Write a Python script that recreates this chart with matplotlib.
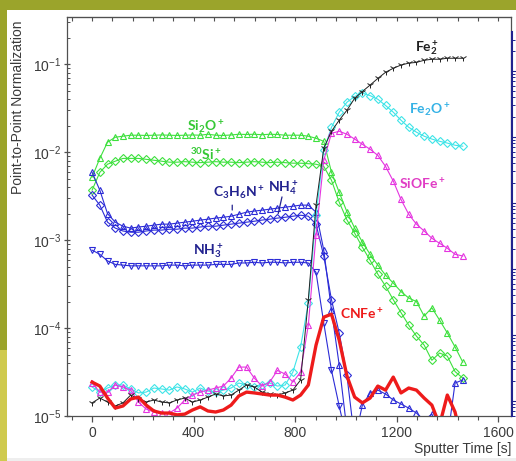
import matplotlib
matplotlib.use('Agg')
import matplotlib.pyplot as plt
import matplotlib.ticker as mticker
from matplotlib.patches import Rectangle
import numpy as np

nan = np.nan

# -- Data --------------------------------------------------------------------
time_s = np.linspace(0, 1460, 49)          # sputter time, ~30 s per cycle

si2o = [5.2e-3, 8.5e-3, 1.3e-2, 1.48e-2, 1.52e-2, 1.56e-2, 1.56e-2, 1.55e-2, 1.56e-2, 1.57e-2,
        1.56e-2, 1.55e-2, 1.56e-2, 1.57e-2, 1.56e-2, 1.6e-2, 1.56e-2, 1.55e-2, 1.57e-2, 1.6e-2,
        1.59e-2, 1.6e-2, 1.58e-2, 1.6e-2, 1.59e-2, 1.56e-2, 1.56e-2, 1.56e-2, 1.52e-2, 1.44e-2,
        1.33e-2, 5.9e-3, 3.5e-3, 2.1e-3, 1.37e-3, 9.5e-4, 6.9e-4, 5.2e-4, 4.0e-4, 3.25e-4,
        2.6e-4, 2.2e-4, 2.0e-4, 1.37e-4, 1.7e-4, 1.23e-4, 8.8e-5, 6.1e-5, 4.1e-5]

si30 = [3.7e-3, 5.9e-3, 7.3e-3, 7.9e-3, 8.5e-3, 8.5e-3, 8.5e-3, 8.3e-3, 8.1e-3, 7.9e-3,
        7.7e-3, 7.7e-3, 7.8e-3, 7.7e-3, 7.6e-3, 7.7e-3, 7.8e-3, 7.7e-3, 7.7e-3, 7.6e-3,
        7.7e-3, 7.8e-3, 7.7e-3, 7.6e-3, 7.7e-3, 7.6e-3, 7.5e-3, 7.5e-3, 7.4e-3, 7.3e-3,
        6.9e-3, 4.8e-3, 2.7e-3, 1.7e-3, 1.2e-3, 8.3e-4, 5.9e-4, 4.1e-4, 3.0e-4, 2.1e-4,
        1.5e-4, 1.08e-4, 8.1e-5, 6.4e-5, 4.3e-5, 5.2e-5, 4.8e-5, 3.2e-5, 2.7e-5]

c3h6n = [5.9e-3, 3.7e-3, 2.0e-3, 1.6e-3, 1.44e-3, 1.37e-3, 1.41e-3, 1.44e-3, 1.48e-3, 1.52e-3,
         1.52e-3, 1.56e-3, 1.6e-3, 1.64e-3, 1.69e-3, 1.73e-3, 1.78e-3, 1.82e-3, 1.87e-3, 1.97e-3,
         2.08e-3, 2.14e-3, 2.19e-3, 2.25e-3, 2.31e-3, 2.37e-3, 2.43e-3, 2.5e-3, 2.5e-3, 2.08e-3,
         7.7e-4, 1.6e-4, 3.8e-5, 6.9e-6, 5.3e-6, 1.33e-5, 1.83e-5, 1.97e-5, 1.78e-5, 1.52e-5,
         1.37e-5, 1.23e-5, 1.08e-5, 9e-6, 1.05e-5, 6.9e-6, 5.3e-6, 2.37e-5, 2.57e-5]

nh4 = [3.25e-3, 2.5e-3, 1.6e-3, 1.37e-3, 1.27e-3, 1.23e-3, 1.23e-3, 1.27e-3, 1.3e-3, 1.3e-3,
       1.33e-3, 1.33e-3, 1.37e-3, 1.37e-3, 1.41e-3, 1.44e-3, 1.44e-3, 1.48e-3, 1.52e-3, 1.56e-3,
       1.6e-3, 1.64e-3, 1.69e-3, 1.73e-3, 1.78e-3, 1.82e-3, 1.87e-3, 1.92e-3, 1.87e-3, 1.52e-3,
       6.6e-4, 2.1e-4, 8.8e-5, 2.9e-5, 5.3e-6, nan, nan, nan, nan, nan,
       nan, nan, nan, nan, nan, nan, nan, nan, nan]

nh3 = [7.7e-4, 6.9e-4, 5.8e-4, 5.3e-4, 5.2e-4, 5.1e-4, 5.1e-4, 5.1e-4, 5.1e-4, 5.1e-4,
       5.2e-4, 5.2e-4, 5.1e-4, 5.2e-4, 5.2e-4, 5.2e-4, 5.3e-4, 5.3e-4, 5.3e-4, 5.5e-4,
       5.5e-4, 5.6e-4, 5.5e-4, 5.6e-4, 5.6e-4, 5.5e-4, 5.6e-4, 5.6e-4, 5.5e-4, 4.3e-4,
       1.14e-4, 3.3e-5, 1.3e-5, 5.3e-6, nan, nan, nan, nan, nan, nan,
       nan, nan, nan, nan, nan, nan, nan, nan, nan]

fe2o = [2.14e-5, 1.87e-5, 2.08e-5, 2.25e-5, 2.25e-5, 2.03e-5, 1.83e-5, 1.87e-5, 2.08e-5, 2.03e-5,
        1.97e-5, 2.14e-5, 2.03e-5, 1.87e-5, 2.08e-5, 1.92e-5, 1.87e-5, 1.97e-5, 2.08e-5, 2.37e-5,
        2.25e-5, 2.14e-5, 2.25e-5, 2.37e-5, 2.19e-5, 2.25e-5, 3.16e-5, 6.1e-5, 1.92e-4, 1.92e-3,
        1.05e-2, 1.92e-2, 2.85e-2, 3.7e-2, 4.3e-2, 4.7e-2, 4.4e-2, 4.0e-2, 3.4e-2, 2.85e-2,
        2.31e-2, 1.92e-2, 1.69e-2, 1.52e-2, 1.41e-2, 1.33e-2, 1.27e-2, 1.2e-2, 1.17e-2]

siofe = [2.37e-5, 1.87e-5, 1.87e-5, 2.25e-5, 2.14e-5, 1.97e-5, 1.44e-5, 1.2e-5, 1.11e-5, 1.08e-5,
         1.08e-5, 1.23e-5, 1.52e-5, 1.73e-5, 1.87e-5, 1.97e-5, 2.08e-5, 2.19e-5, 2.7e-5, 3.6e-5,
         3.6e-5, 2.7e-5, 2.19e-5, 2.43e-5, 3.3e-5, 3.0e-5, 2.43e-5, 3.16e-5, 1.08e-4, 1.14e-3,
         8.1e-3, 1.64e-2, 1.73e-2, 1.6e-2, 1.41e-2, 1.23e-2, 1.08e-2, 9.2e-3, 6.9e-3, 4.7e-3,
         2.9e-3, 1.97e-3, 1.52e-3, 1.27e-3, 1.05e-3, 9.2e-4, 8.1e-4, 6.9e-4, 6.6e-4]

fe2 = [1.41e-5, 1.6e-5, 1.44e-5, 1.3e-5, 1.41e-5, 1.73e-5, 1.56e-5, 1.44e-5, 1.52e-5, 1.44e-5,
       1.41e-5, 1.52e-5, 1.6e-5, 1.44e-5, 1.52e-5, 1.64e-5, 1.78e-5, 1.69e-5, 1.73e-5, 1.97e-5,
       2.25e-5, 2.14e-5, 1.87e-5, 1.78e-5, 1.73e-5, 1.83e-5, 1.97e-5, 2.57e-5, 2.1e-4, 2.5e-3,
       1.11e-2, 1.73e-2, 2.31e-2, 3.0e-2, 4.1e-2, 4.9e-2, 5.8e-2, 6.9e-2, 8.1e-2, 9.0e-2,
       9.8e-2, 1.03e-1, 1.05e-1, 1.11e-1, 1.14e-1, 1.14e-1, 1.17e-1, 1.17e-1, 1.17e-1]

cnfe = [2.43e-5, 2.19e-5, 1.6e-5, 1.23e-5, 1.3e-5, 1.56e-5, 1.64e-5, 1.33e-5, 1.14e-5, 1.08e-5,
        1.08e-5, 1.03e-5, 1.05e-5, 1.17e-5, 1.27e-5, 1.14e-5, 1.11e-5, 1.17e-5, 1.33e-5, 1.69e-5,
        1.87e-5, 1.83e-5, 1.78e-5, 1.73e-5, 1.73e-5, 1.64e-5, 1.52e-5, 1.73e-5, 2.25e-5, 6.4e-5,
        1.33e-4, 1.44e-4, 7.3e-5, 2.85e-5, 1.64e-5, 1.41e-5, 1.6e-5, 2.19e-5, 1.97e-5, 2.77e-5,
        1.83e-5, 2.08e-5, 1.97e-5, 1.6e-5, 1.33e-5, 7.9e-6, 1.73e-5, 1.11e-5, 4.7e-6]

# -- Colours ------------------------------------------------------------------
OLIVE  = '#9ba42b'
YELLOW = '#cfca4e'
GREEN  = '#3ee03e'
GREENT = '#35c835'
BLUE   = '#2b2bd6'
NAVY   = '#22228f'
CYAN   = '#3fe4e8'
CYANT  = '#35b2e6'
MAGENT = '#e535e0'
MAGT   = '#e03cc4'
RED    = '#ee1b1b'
BLACK  = '#202020'
AXC    = '#505050'
TXT    = '#3a3a3a'

plt.rcParams.update({
    'font.family': 'Liberation Sans',
    'mathtext.fontset': 'custom',
    'mathtext.rm': 'Lato',
    'mathtext.bf': 'Lato:bold',
    'mathtext.it': 'Lato:italic',
})

W, H = 516, 461
fig = plt.figure(figsize=(W / 100, H / 100), dpi=100, facecolor='white')

# slide background frame
fig.add_artist(Rectangle((0, 1 - 10 / H), 1, 10 / H, transform=fig.transFigure,
                         facecolor=OLIVE, edgecolor='none', zorder=-5))
fig.add_artist(Rectangle((0, 1 - 350 / H), 7 / W, 350 / H, transform=fig.transFigure,
                         facecolor=OLIVE, edgecolor='none', zorder=-5))
fig.add_artist(Rectangle((0, 0), 7 / W, 1 - 350 / H, transform=fig.transFigure,
                         facecolor=YELLOW, edgecolor='none', zorder=-5))
fig.add_artist(Rectangle((7 / W, 0), 1, 3 / H, transform=fig.transFigure,
                         facecolor='#eeeeee', edgecolor='none', zorder=-5))

ax = fig.add_axes([66.7 / W, 45 / H, (511 - 66.7) / W, (416 - 17.3) / H])
ax.set_facecolor('none')

mk = dict(mfc='none', mew=0.8, lw=0.8)
ax.plot(time_s, si2o, color=GREEN, marker='^', ms=5, **mk)
ax.plot(time_s, si30, color=GREEN, marker='D', ms=3.6, **mk)
ax.plot(time_s, c3h6n, color=BLUE, marker='^', ms=5, **mk)
ax.plot(time_s, nh4, color=BLUE, marker='D', ms=3.6, **mk)
ax.plot(time_s, nh3, color=BLUE, marker='v', ms=5, **mk)
ax.plot(time_s, fe2o, color=CYAN, marker='D', ms=3.6, **mk)
ax.plot(time_s, siofe, color=MAGENT, marker='^', ms=5, **mk)
ax.plot(time_s, fe2, color=BLACK, marker='1', ms=5, mew=0.7, lw=0.7)
ax.plot(time_s, cnfe, color=RED, lw=2.4, solid_joinstyle='round')

ax.set_yscale('log')
ax.set_xlim(-100, 1650)
ax.set_ylim(1e-5, 0.342)

ax.xaxis.set_major_locator(mticker.MultipleLocator(400))
ax.xaxis.set_minor_locator(mticker.MultipleLocator(80))
ax.yaxis.set_major_locator(mticker.LogLocator(base=10, numticks=10))
ax.yaxis.set_minor_locator(mticker.LogLocator(base=10, subs=np.arange(2, 10), numticks=10))
ax.yaxis.set_minor_formatter(mticker.NullFormatter())

ax.tick_params(axis='x', which='major', direction='out', length=4.5, width=0.9,
               colors=AXC, labelcolor=TXT, labelsize=10, pad=3)
ax.tick_params(axis='x', which='minor', direction='out', length=3, width=0.8, colors=AXC)
ax.tick_params(axis='y', which='major', direction='inout', length=5, width=0.9,
               colors=AXC, labelcolor=TXT, labelsize=10, pad=1.5)
ax.tick_params(axis='y', which='minor', direction='in', length=2.5, width=0.7, colors=AXC)
for sp in ax.spines.values():
    sp.set_color(AXC)
    sp.set_linewidth(0.9)

top = ax.secondary_xaxis('top')
top.xaxis.set_major_locator(mticker.MultipleLocator(400))
top.xaxis.set_minor_locator(mticker.MultipleLocator(80))
top.tick_params(which='both', direction='in', length=3, width=0.8, colors=AXC, labeltop=False)
top.spines['top'].set_color(AXC)

# species labels
lab = dict(fontsize=10, ha='center', va='center')
ax.text(446, 1.92e-2, r'$\mathbf{Si_2O^+}$', color=GREENT, **lab)
ax.text(450, 9.2e-3, r'$\mathbf{{}^{30}Si^+}$', color=GREENT, **lab)
ax.text(580, 3.4e-3, r'$\mathbf{C_3H_6N^+}$', color=NAVY, **lab)
ax.text(752, 3.9e-3, r'$\mathbf{NH_4^+}$', color=NAVY, **lab)
ax.text(458, 7.4e-4, r'$\mathbf{NH_3^+}$', color=NAVY, **lab)
ax.text(1320, 0.15, r'$\mathbf{Fe_2^+}$', color=BLACK, **lab)
ax.text(1330, 3.0e-2, r'$\mathbf{Fe_2O^+}$', color=CYANT, **lab)
ax.text(1300, 4.2e-3, r'$\mathbf{SiOFe^+}$', color=MAGT, **lab)
ax.text(1062, 1.41e-4, r'$\mathbf{CNFe^+}$', color=RED, **lab)
ax.annotate('', xy=(552, 2.2e-3), xytext=(552, 2.5e-3),
            arrowprops=dict(arrowstyle='-', color=NAVY, lw=0.9, shrinkA=0, shrinkB=0))
ax.annotate('', xy=(733, 2.0e-3), xytext=(748, 3.1e-3),
            arrowprops=dict(arrowstyle='-', color=NAVY, lw=0.9, shrinkA=0, shrinkB=0))

fig.text(18 / W, 1 - 107 / H, 'Point-to-Point Normalization', rotation=90,
         ha='center', va='center', fontsize=10, color=TXT)
fig.text(511 / W, 1 - 449 / H, 'Sputter Time [s]', ha='right', va='center',
         fontsize=10, color=TXT)

# edge of the neighbouring (cropped) chart on the right
side = fig.add_axes([512 / W, 45 / H, 4 / W, (416 - 32) / H])
side.set_facecolor('none')
side.set_yscale('log')
side.set_ylim(5.9e-5, 39)
side.set_xticks([])
for k in ('top', 'bottom', 'right'):
    side.spines[k].set_visible(False)
side.spines['left'].set_color(NAVY)
side.spines['left'].set_linewidth(1.5)
side.tick_params(axis='y', which='major', direction='in', length=4, width=0.8,
                 colors=NAVY, labelleft=False)
side.tick_params(axis='y', which='minor', direction='in', length=2.5, width=0.7,
                 colors=NAVY, labelleft=False)

fig.savefig('out.png', dpi=100, facecolor='white')
